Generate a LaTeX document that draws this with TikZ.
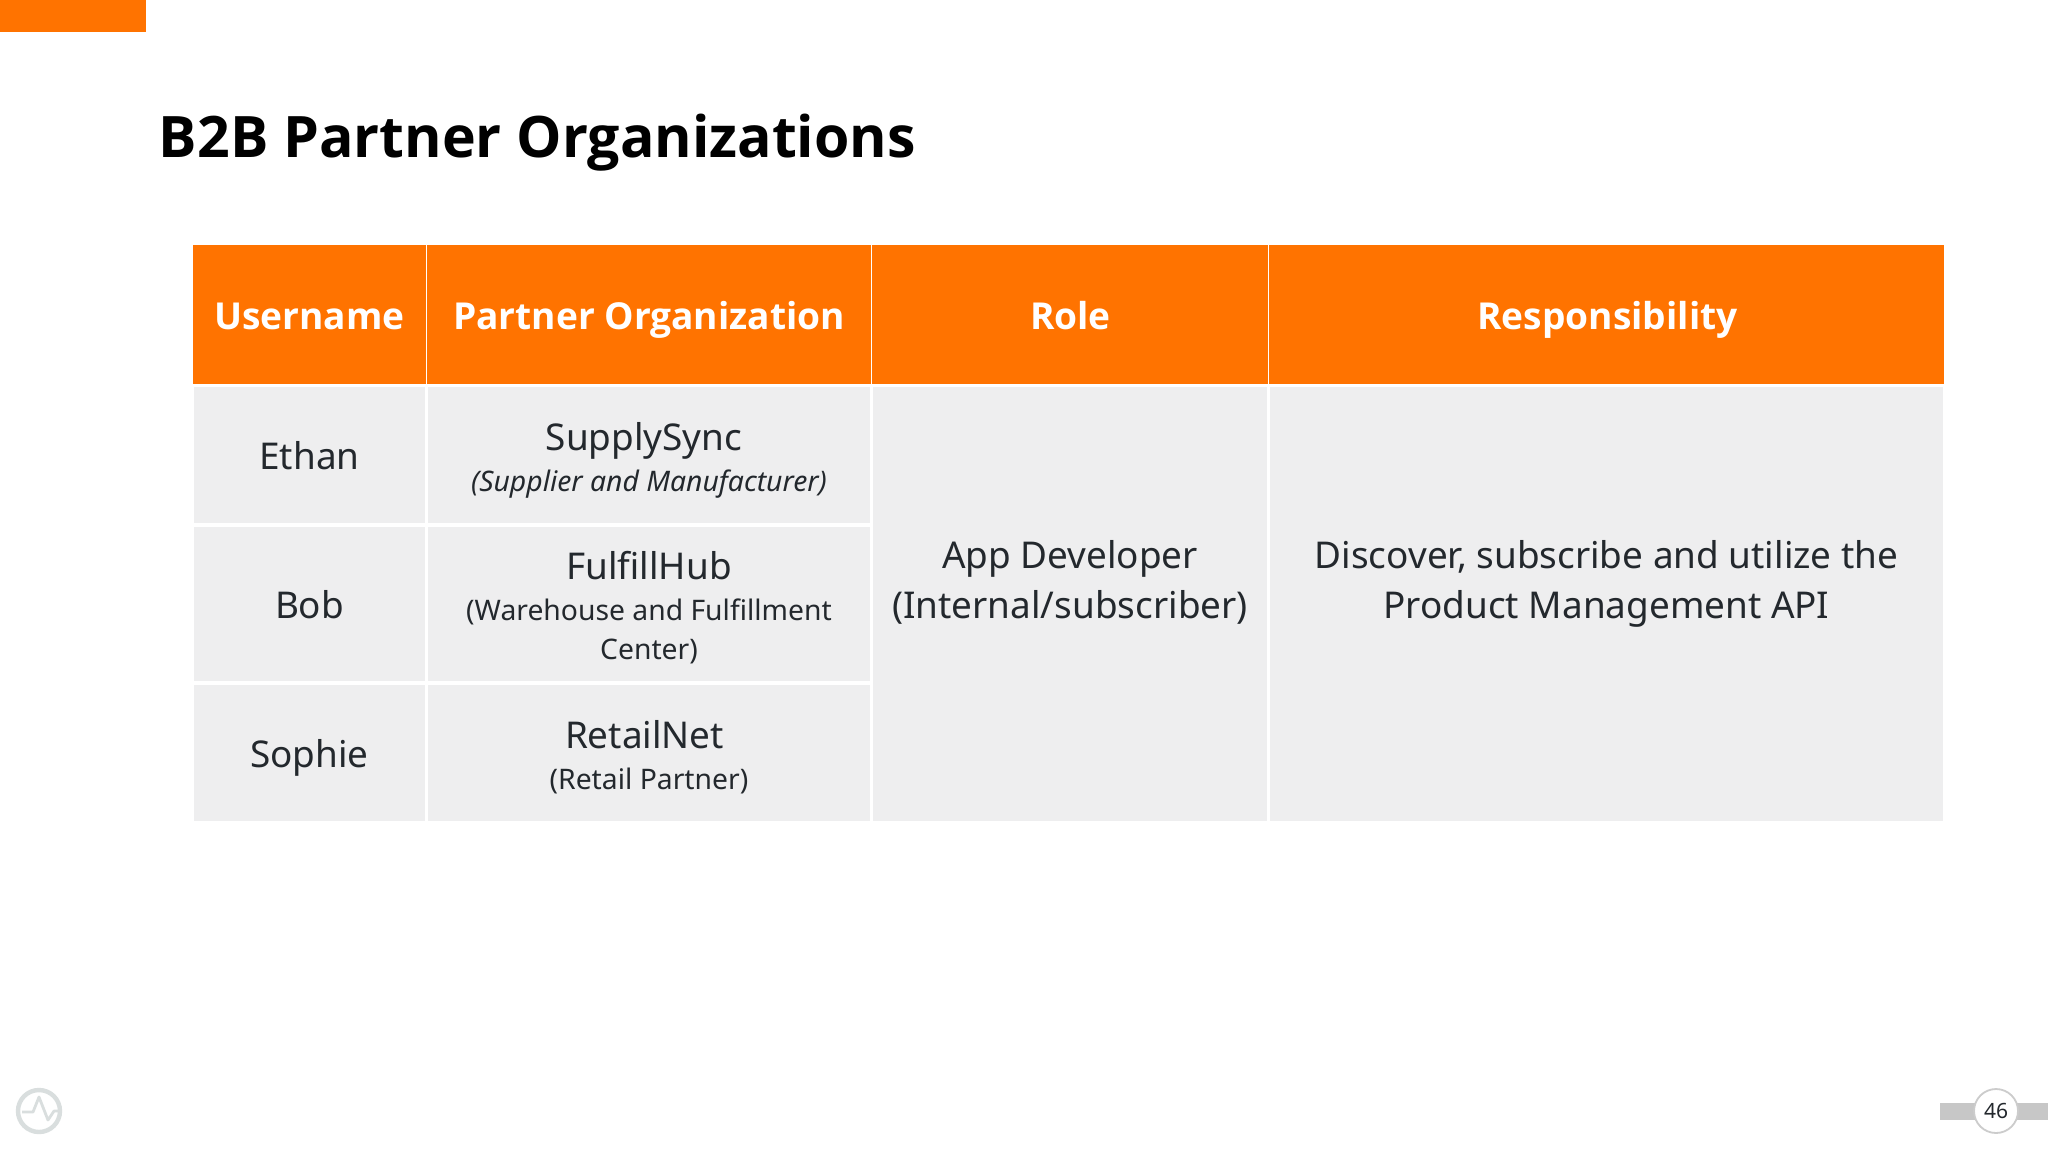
\documentclass[tikz,border=0pt]{standalone}
\usepackage{fontspec}
\setmainfont{Noto Sans}
\newfontfamily\heavy{Open Sans}
\definecolor{orng}{HTML}{FF7300}
\definecolor{cellg}{HTML}{EEEEEF}
\definecolor{ink}{HTML}{23282D}
\definecolor{logog}{HTML}{D9DEDE}
\newcommand{\fs}[1]{\fontsize{#1}{#1}\selectfont}
\tikzset{
  hd/.style={fill=orng,draw=none},
  ce/.style={fill=cellg,draw=none},
  ht/.style={text=white,font=\heavy\bfseries\fs{18.55},inner sep=0pt,anchor=base},
  big/.style={text=ink,font=\fs{18.45},inner sep=0pt,anchor=base},
  sm/.style={text=ink,font=\fs{14.15},inner sep=0pt,anchor=base},
}
\begin{document}
\begin{tikzpicture}[x=0.5pt,y=-0.5pt]
\useasboundingbox (0,0) rectangle (2048,1152);
\fill[white] (0,0) rectangle (2048,1152);
\fill[orng] (0,0) rectangle (146,32);
\node[anchor=base west,inner sep=0pt,font=\heavy\bfseries\fs{28.6}] (title) at (158.5,157) {B2B Partner Organizations};
\fill[hd] (193,245) rectangle (425.5,384);
\fill[hd] (427,245) rectangle (870.5,384);
\fill[hd] (872,245) rectangle (1267.5,384);
\fill[hd] (1269,245) rectangle (1943.5,384);
\fill[ce] (194,387) rectangle (424.5,523);
\fill[ce] (194,527) rectangle (424.5,681);
\fill[ce] (194,685) rectangle (424.5,820.5);
\fill[ce] (428,387) rectangle (869.5,523);
\fill[ce] (428,527) rectangle (869.5,681);
\fill[ce] (428,685) rectangle (869.5,820.5);
\fill[ce] (873,387) rectangle (1267,820.5);
\fill[ce] (1270,387) rectangle (1942.5,820.5);
\node[ht] (h1) at (309.5,329.5) {Username};
\node[ht] (h2) at (649,329.5) {Partner Organization};
\node[ht] (h3) at (1070.5,329.5) {Role};
\node[ht] (h4) at (1607.5,329.5) {Responsibility};
\node[big] (u1) at (309.5,469) {Ethan};
\node[big] (u2) at (309.5,618) {Bob};
\node[big] (u3) at (309.5,767) {Sophie};
\node[big] (o1) at (644,450) {SupplySync};
\node[sm,font=\itshape\fs{14.15}] (o1s) at (649,491) {(Supplier and Manufacturer)};
\node[big] (o2) at (649,579.5) {FulfillHub};
\node[sm] (o2s) at (649,620) {(Warehouse and Fulfillment};
\node[sm] (o2t) at (649,659) {Center)};
\node[big] (o3) at (644.5,748) {RetailNet};
\node[sm] (o3s) at (649,789) {(Retail Partner)};
\node[big] (r1) at (1070,568) {App Developer};
\node[big] (r2) at (1070,618) {(Internal/subscriber)};
\node[big] (p1) at (1606.5,568) {Discover, subscribe and utilize the};
\node[big] (p2) at (1606.5,618) {Product Management API};
% logo
\draw[draw=logog,line width=2.2pt] (39,1111) circle (21);
\draw[draw=logog,line width=1.4pt,line join=round] (22,1112) -- (33,1112) -- (39,1097) -- (48,1120) -- (54,1111) -- (60,1111);
% page number
\fill[black!22] (1940,1103) rectangle (2048,1120);
\node[circle,draw=black!20,fill=white,line width=0.9pt,minimum size=22pt,inner sep=0pt,text=ink,font=\fs{10.5}] (pg) at (1996,1111) {46};
\end{tikzpicture}
\end{document}
